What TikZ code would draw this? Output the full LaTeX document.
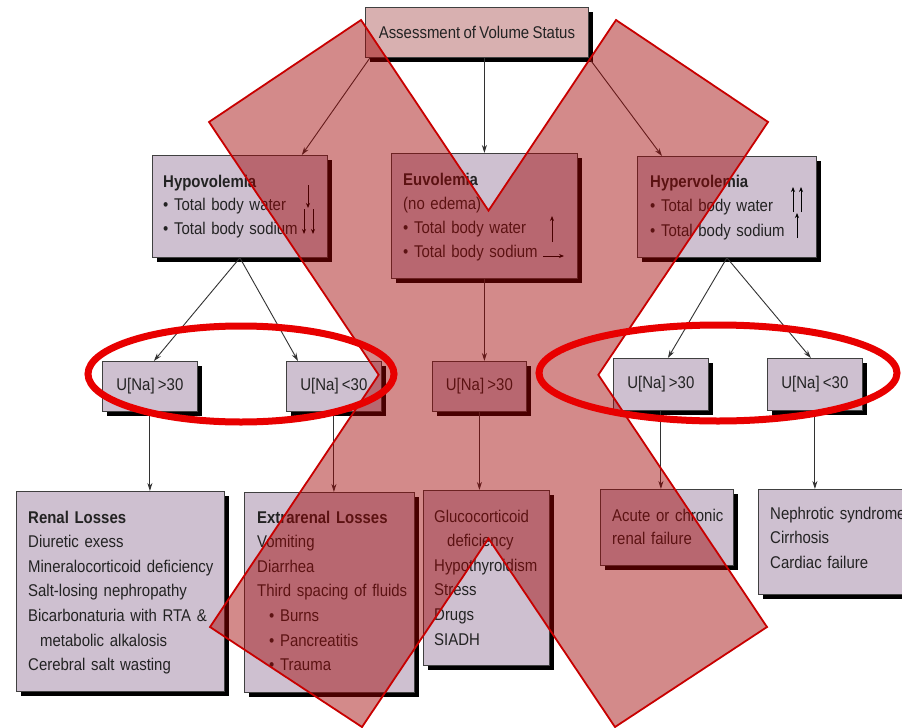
\documentclass[tikz,border=0pt]{standalone}
\usepackage{fontspec}
\setmainfont{Liberation Sans}[FakeStretch=0.88,WordSpace=0.8]
\usetikzlibrary{arrows.meta,calc,shadows}
\definecolor{boxfill}{RGB}{206,192,208}
\definecolor{assessfill}{RGB}{216,176,176}
\definecolor{xfill}{RGB}{160,0,0}
\definecolor{xline}{RGB}{200,0,0}
\definecolor{ellred}{RGB}{232,0,0}
\definecolor{txtgray}{RGB}{35,35,35}
\definecolor{linegray}{RGB}{50,50,50}
\tikzset{
  boxnode/.style={draw=black!75, line width=0.8pt, fill=boxfill, rectangle, inner sep=0pt,
    anchor=north west, text=txtgray, font=\fontsize{17}{20}\selectfont,
    drop shadow={shadow xshift=5pt, shadow yshift=-5pt, fill=black, opacity=1}},
  txt/.style={inner sep=0pt, anchor=base west, text width=300pt, align=left, text=txtgray,
    font=\fontsize{17}{24.6}\selectfont},
  conn/.style={draw=linegray, line width=0.9pt, -{Stealth[length=8pt,width=5pt]}},
  mini/.style={draw=black, line width=1pt, -{Stealth[length=5pt,width=4pt]}},
}
\begin{document}
\begin{tikzpicture}[x=1pt,y=-1pt]
\path[use as bounding box, fill=white] (0,0) rectangle (902,728);
\clip (0,0) rectangle (902,728);

% boxes
\node[boxnode, fill=assessfill, minimum width=223pt, minimum height=50pt] (assess) at (365,7) {Assessment of Volume Status};
\node[boxnode, minimum width=175pt, minimum height=102pt] (hypo) at (152,155) {};
\node[boxnode, minimum width=186pt, minimum height=125pt] (eu) at (391,153) {};
\node[boxnode, minimum width=179pt, minimum height=101pt] (hyper) at (637,156) {};

\node[boxnode, minimum width=95pt, minimum height=50pt] (u1) at (102,361) {U[Na] >30};
\node[boxnode, minimum width=95pt, minimum height=50pt] (u2) at (286,361) {U[Na] <30};
\node[boxnode, minimum width=94pt, minimum height=50pt] (u3) at (432,361) {U[Na] >30};
\node[boxnode, minimum width=95pt, minimum height=52pt] (u4) at (613,358) {U[Na] >30};
\node[boxnode, minimum width=95pt, minimum height=52pt] (u5) at (767,358) {U[Na] <30};

\node[boxnode, minimum width=208pt, minimum height=200pt] (renal) at (16,491) {};
\node[boxnode, minimum width=170pt, minimum height=200pt] (extra) at (244,492) {};
\node[boxnode, minimum width=126pt, minimum height=175pt] (gluco) at (423,490) {};
\node[boxnode, minimum width=133pt, minimum height=76pt] (acute) at (600,489) {};
\node[boxnode, minimum width=160pt, minimum height=105pt] (neph) at (758,489) {};

% texts
\node[txt, font=\fontsize{17}{23.6}\selectfont] (hypoT) at (163,187) {\textbf{Hypovolemia}\\\textbullet\ Total body water\\\textbullet\ Total body sodium};
\node[txt, font=\fontsize{17}{24.3}\selectfont] (euT) at (403,185) {\textbf{Euvolemia}\\(no edema)\\\textbullet\ Total body water\\\textbullet\ Total body sodium};
\node[txt, font=\fontsize{17}{24.5}\selectfont] (hyperT) at (650,187) {\textbf{Hypervolemia}\\\textbullet\ Total body water\\\textbullet\ Total body sodium};

\node[txt] (renalT) at (28,523) {\textbf{Renal Losses}\\Diuretic exess\\Mineralocorticoid deficiency\\Salt-losing nephropathy\\Bicarbonaturia with RTA \&\\\hspace*{12pt}metabolic alkalosis\\Cerebral salt wasting};
\node[txt] (extraT) at (257,523) {\textbf{Extrarenal Losses}\\Vomiting\\Diarrhea\\Third spacing of fluids\\\hspace*{12pt}\textbullet\ Burns\\\hspace*{12pt}\textbullet\ Pancreatitis\\\hspace*{12pt}\textbullet\ Trauma};
\node[txt] (glucoT) at (434,522) {Glucocorticoid\\\hspace*{13pt}deficiency\\Hypothyroidism\\Stress\\Drugs\\SIADH};
\node[txt, font=\fontsize{17}{23.5}\selectfont] (acuteT) at (612,521) {Acute or chronic\\renal failure};
\node[txt] (nephT) at (770,519) {Nephrotic syndrome\\Cirrhosis\\Cardiac failure};

% small arrows
\draw[mini] (308,185) -- (308,208);
\draw[mini] (304,209) -- (304,234);
\draw[mini] (313,209) -- (313,234);
\draw[mini] (552,242) -- (552,216);
\draw[mini] (543,256) -- (564,256);
\draw[mini] (793,212) -- (793,187);
\draw[mini] (801,212) -- (801,187);
\draw[mini] (797,238) -- (797,213);

% connectors
\draw[conn] ($(assess.south west)+(5,0)$) -- ($(hypo.north east)+(-26,0)$);
\draw[conn] (assess.south -| eu.north) -- (eu.north);
\draw[conn] (assess.south east) -- ($(hyper.north west)+(25,0)$);
\draw[conn] (hypo.south) -- ($(u1.north)+(4,0)$);
\draw[conn] (hypo.south) -- ($(u2.north west)+(12,0)$);
\draw[conn] (eu.south) -- (eu.south |- u3.north);
\draw[conn] (hyper.south) -- ($(u4.north)+(7,0)$);
\draw[conn] (hyper.south) -- ($(u5.north)+(-4,0)$);
\draw[conn] (u1.south) -- (u1.south |- renal.north);
\draw[conn] (u2.south) -- (u2.south |- extra.north);
\draw[conn] (u3.south) -- (u3.south |- gluco.north);
\draw[conn] (u4.south) -- (u4.south |- acute.north);
\draw[conn] (u5.south) -- (u5.south |- neph.north);

% red X overlay
\coordinate (A1) at (209,122);
\coordinate (B1) at (361,20);
\coordinate (C1) at (767,627);
\coordinate (D1) at (615,727);
\coordinate (A2) at (768,122);
\coordinate (B2) at (616,20);
\coordinate (C2) at (210,627);
\coordinate (D2) at (362,727);
\path[fill=xfill, fill opacity=0.46, draw=xline, line width=1.8pt, line join=miter]
  (A1) -- (B1) -- (intersection of B1--C1 and B2--C2) -- (B2) -- (A2)
  -- (intersection of B1--C1 and A2--D2) -- (C1) -- (D1)
  -- (intersection of A1--D1 and A2--D2) -- (D2) -- (C2)
  -- (intersection of A1--D1 and B2--C2) -- cycle;

% red ellipses
\draw[ellred, line width=7pt] (241,374) ellipse [x radius=153, y radius=48];
\draw[ellred, line width=7pt] (718,373) ellipse [x radius=179, y radius=48];
\end{tikzpicture}
\end{document}
